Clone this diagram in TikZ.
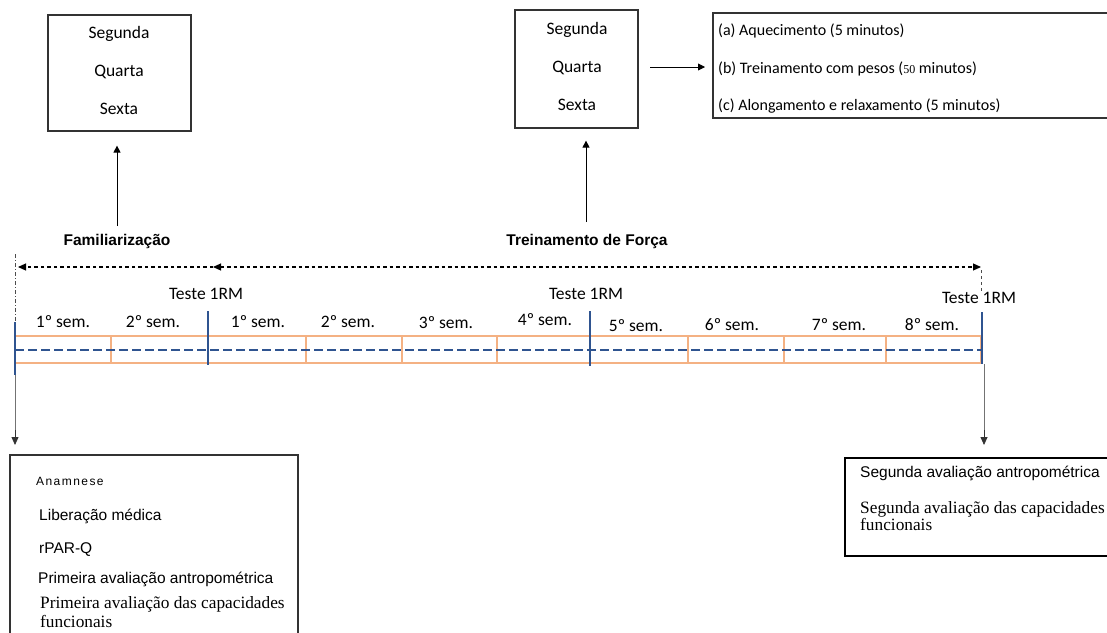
\documentclass[tikz,border=0pt]{standalone}
\usepackage{fontspec}
\setmainfont{Carlito}
\newfontfamily\arialf{Liberation Sans}
\newfontfamily\arialsp[LetterSpace=12]{Liberation Sans}
\newfontfamily\timesf{Liberation Serif}
\usetikzlibrary{arrows.meta}
\definecolor{wkorange}{HTML}{F4B183}
\definecolor{wkblue}{HTML}{2F5490}
\begin{document}
\begin{tikzpicture}[x=1pt,y=-1pt,
  box/.style={draw=black!80,line width=1.2pt,inner sep=0pt},
  lbl/.style={font=\fontsize{17.5}{17.5}\selectfont,anchor=base,inner sep=0pt},
  lst/.style={font=\fontsize{16}{16}\selectfont,anchor=base west,inner sep=0pt},
  wkl/.style={font=\fontsize{17.5}{17.5}\selectfont,anchor=base,inner sep=0pt},
  hd/.style={font=\arialf\bfseries\fontsize{15.5}{15.5}\selectfont,anchor=base,inner sep=0pt},
  asf/.style={font=\arialf\fontsize{15.5}{15.5}\selectfont,anchor=base west,inner sep=0pt},
  tsf/.style={font=\timesf\fontsize{17.3}{17.3}\selectfont,anchor=base west,inner sep=0pt},
  wk/.style={draw=wkorange,line width=1.2pt},
  arr/.style={-{Triangle[length=7pt,width=7pt]},line width=0.9pt},
  darr/.style={-{Triangle[length=8pt,width=7pt]},line width=1.1pt,dash pattern=on 3.5pt off 3pt},
  thinl/.style={draw=black!55,line width=0.8pt},
  blk/.style={draw=wkblue,line width=2.2pt}]
\useasboundingbox (0,0) rectangle (1107,632);

% top boxes
\node[box,minimum width=143pt,minimum height=116pt] (fbox) at (119.5,73) {};
\node[lbl] at (119,38) {Segunda};
\node[lbl] at (119,76) {Quarta};
\node[lbl] at (119,114) {Sexta};

\node[box,minimum width=123pt,minimum height=118pt] (tbox) at (576.5,69) {};
\node[lbl] at (577,34) {Segunda};
\node[lbl] at (577,72) {Quarta};
\node[lbl] at (577,110) {Sexta};

\draw[box] (1110,13) -- (713,13) -- (713,118) -- (1110,118);
\coordinate (lbox) at (705,67);
\node[lst] at (718,35) {(a) Aquecimento (5 minutos)};
\node[lst] at (718,73) {(b) Treinamento com pesos ({\timesf\fontsize{12}{12}\selectfont 50} minutos)};
\node[lst] at (718,110) {(c) Alongamento e relaxamento (5 minutos)};

\coordinate (rarr) at (650,67);
\draw[arr] (rarr) -- (lbox);

% headings and upward arrows
\node[hd] (fam) at (117,245) {Familiarização};
\node[hd] (tf) at (587,245) {Treinamento de Força};
\coordinate (fa) at (117,226);
\coordinate (ta) at (586,222);
\draw[arr,shorten >=14pt] (fa) -- (fa |- fbox.south);
\draw[arr,shorten >=12pt] (ta) -- (ta |- tbox.south);

% dashed period arrows
\coordinate (d0) at (18,267);
\coordinate (d1) at (213,267);
\coordinate (d2) at (981,267);
\draw[darr] (d1) -- (d0);
\draw[darr,{Triangle[length=8pt,width=7pt]}-{Triangle[length=8pt,width=7pt]}] (d1) -- (d2);
\draw[line width=1pt,dash pattern=on 4pt off 2pt on 1pt off 2pt,black!70] (15,254) -- (15,322);
\draw[line width=1pt,dash pattern=on 3pt off 3pt,black!70] (981,270) -- (981,292);

% weeks
\foreach \a/\b/\n in {15/111/w1,111/208/w2,208/306/w3,306/402/w4,402/497/w5,497/590/w6,590/688/w7,688/784/w8,784/886/w9,886/981/w10}{
  \draw[wk] (\a,336) rectangle (\b,363);
  \coordinate (\n) at ({(\a+\b)/2},350);
}
\draw[wkblue,line width=2.6pt,dash pattern=on 9pt off 4pt] (15,350) -- (981,350);

\node[wkl] at (63,327) {1º sem.};
\node[wkl] at (153,327) {2º sem.};
\node[wkl] at (258,327) {1º sem.};
\node[wkl] at (348,327) {2º sem.};
\node[wkl] at (446,328) {3º sem.};
\node[wkl] at (545,325) {4º sem.};
\node[wkl] at (636,331) {5º sem.};
\node[wkl] at (732,330) {6º sem.};
\node[wkl] at (839,330) {7º sem.};
\node[wkl] at (932,330) {8º sem.};

\node[wkl] at (206,299) {Teste 1RM};
\node[wkl] at (586,299) {Teste 1RM};
\node[wkl] at (979,303) {Teste 1RM};

% thick test markers
\draw[blk] (15,322) -- (15,375);
\draw[blk] (208,311) -- (208,365);
\draw[blk] (590,311) -- (590,366);
\draw[blk] (982,312) -- (982,364);

% bottom boxes
\coordinate (ba) at (15,375);
\coordinate (ca) at (984,364);
\draw[thinl] (ba) -- (15,432);
\draw[thinl] (ca) -- (984,432);
\draw[-{Triangle[length=8pt,width=7pt]},black!80,line width=0.8pt] (15,430) -- (15,445);
\draw[-{Triangle[length=8pt,width=7pt]},black!80,line width=0.8pt] (984,430) -- (984,445);

\draw[black!80,line width=1.2pt] (10,640) -- (10,455) -- (298,455) -- (298,640);
\node[font=\arialsp\fontsize{12}{12}\selectfont,anchor=base west,inner sep=0pt] at (36,485) {Anamnese};
\node[asf] at (39,520) {Liberação médica};
\node[asf] at (39,553) {rPAR-Q};
\node[asf] at (38,583) {Primeira avaliação antropométrica};
\node[tsf] at (40,608) {Primeira avaliação das capacidades};
\node[tsf] at (40,627) {funcionais};

\draw[black,line width=2pt] (1110,458) -- (845,458) -- (845,556) -- (1110,556);
\node[asf] at (860,477) {Segunda avaliação antropométrica};
\node[tsf] at (860,513) {Segunda avaliação das capacidades};
\node[tsf] at (860,530) {funcionais};
\end{tikzpicture}
\end{document}
